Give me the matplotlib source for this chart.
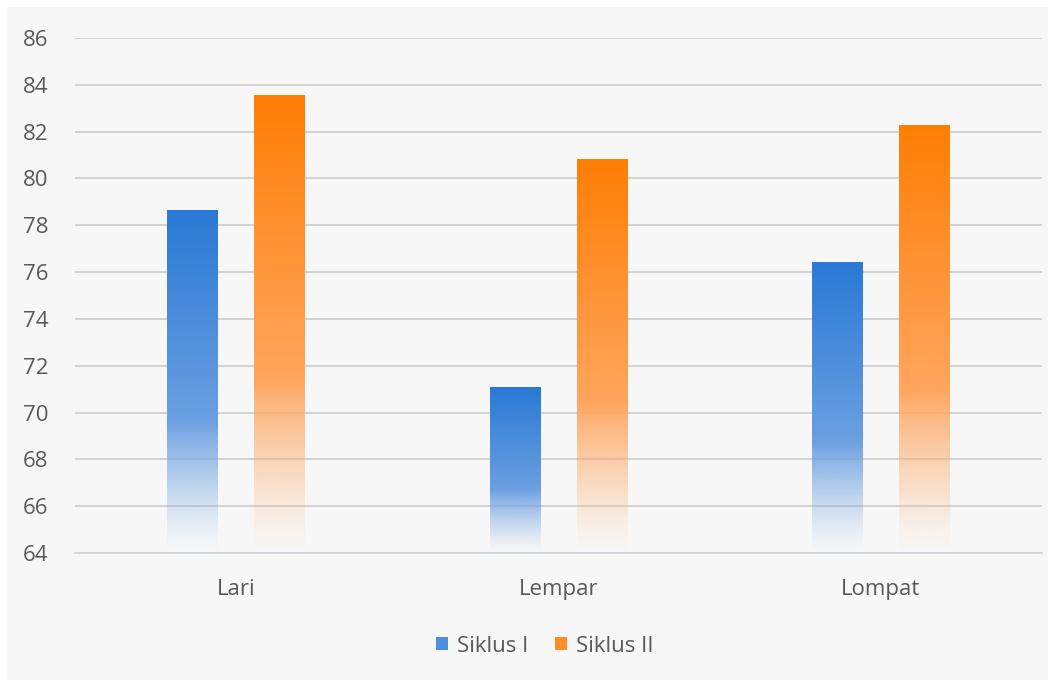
import numpy as np
import matplotlib
matplotlib.use("Agg")
import matplotlib.pyplot as plt
from matplotlib.colors import to_rgb
from matplotlib.patches import Rectangle, Patch

# data
categories = ["Lari", "Lempar", "Lompat"]
siklus_1 = [78.65, 71.05, 76.43]
siklus_2 = [83.56, 80.83, 82.28]
series_names = ["Siklus I", "Siklus II"]
yticks = list(range(64, 87, 2))

plt.rcParams['font.family'] = ['Open Sans', 'DejaVu Sans']
text_col = '#595959'

W, H = 1054, 681
fig = plt.figure(figsize=(W / 100, H / 100), dpi=100, facecolor='white')
# light grey chart panel behind everything
fig.add_artist(Rectangle((7 / W, 1 / H), 1041 / W, 673 / H,
                         transform=fig.transFigure, facecolor='#f7f7f7',
                         edgecolor='none', zorder=-10))

ax = fig.add_axes([75 / W, (H - 553) / H, (1042 - 75) / W, (553 - 38) / H])
ax.set_zorder(1)
ax.set_facecolor('none')
ymin, ymax = 64, 86


def gradient_bar(x, top, width, top_col, mid_col):
    # vertical gradient: strong at top, lighter downwards, fading to white at the base
    n = 256
    frac = np.linspace(0, 1, n)  # 0 = bottom, 1 = top
    c_top = np.array(to_rgb(top_col))
    c_mid = np.array(to_rgb(mid_col))
    t = np.clip((frac - 0.35) / 0.65, 0, 1)[:, None]
    rgb = c_mid + (c_top - c_mid) * t
    alpha = np.clip(frac / 0.38, 0, 1) ** 1.3
    img = np.zeros((n, 1, 4))
    img[:, 0, :3] = rgb
    img[:, 0, 3] = alpha
    ax.imshow(img, extent=(x - width / 2, x + width / 2, ymin, top),
              origin='lower', aspect='auto', interpolation='bilinear', zorder=3)


bw = 0.158
off = 0.135
x = np.arange(len(categories))
for i in range(len(categories)):
    gradient_bar(x[i] - off, siklus_1[i], bw, '#2a79d6', '#6fa2e2')
    gradient_bar(x[i] + off, siklus_2[i], bw, '#ff7e05', '#ffa862')

ax.set_xlim(-0.5, len(categories) - 0.5)
ax.set_ylim(ymin, ymax)
ax.set_yticks(yticks)
ax.set_yticklabels([str(v) for v in yticks], fontsize=16, color=text_col)
ax.set_xticks(x)
ax.set_xticklabels(categories, fontsize=16, color=text_col)
ax.tick_params(axis='y', length=0, pad=19)
ax.tick_params(axis='x', length=0, pad=19)
ax.grid(axis='y', color='#cbcbcb', linewidth=1.2, zorder=1)
ax.set_axisbelow(True)
for s in ['top', 'right', 'left']:
    ax.spines[s].set_visible(False)
ax.spines['bottom'].set_color('#cbd1d8')
ax.spines['bottom'].set_linewidth(1.2)

handles = [Patch(facecolor='#4f8edc', edgecolor='none', label=series_names[0]),
           Patch(facecolor='#ff8c26', edgecolor='none', label=series_names[1])]
fig.legend(handles=handles, loc='center', bbox_to_anchor=(545 / W, (H - 646) / H),
           ncol=2, frameon=False, fontsize=16, labelcolor=text_col,
           handlelength=0.55, handleheight=0.55, handletextpad=0.4, columnspacing=1.2)

fig.savefig('out.png', dpi=100, facecolor='white')
